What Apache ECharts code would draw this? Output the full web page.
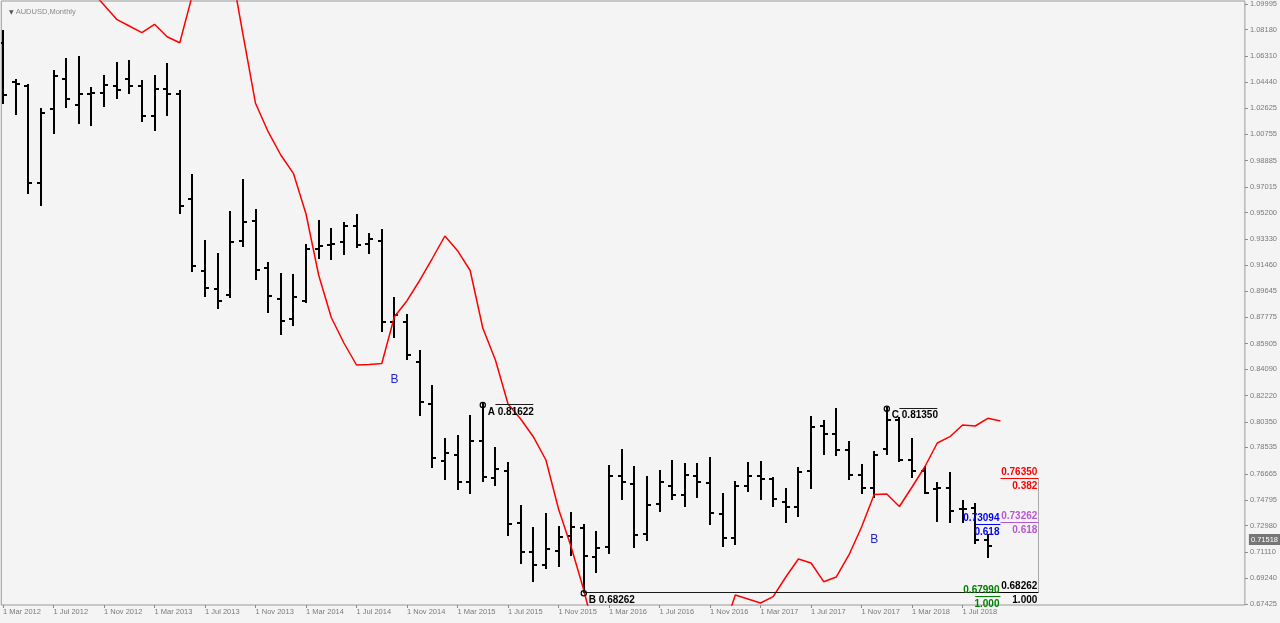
<!DOCTYPE html>
<html><head><meta charset="utf-8">
<script src="https://cdn.jsdelivr.net/npm/echarts@6/dist/echarts.min.js"></script>
<style>html,body{margin:0;padding:0;background:#f4f4f4;}#c{width:1280px;height:623px;}</style>
</head><body><div id="c"></div>
<script>
// ---- data ----
const xTickIndex = [0,4,8,12,16,20,24,28,32,36,40,44,48,52,56,60,64,68,72,76];
const xTickLabels = ['1 Mar 2012','1 Jul 2012','1 Nov 2012','1 Mar 2013','1 Jul 2013','1 Nov 2013','1 Mar 2014','1 Jul 2014','1 Nov 2014','1 Mar 2015','1 Jul 2015','1 Nov 2015','1 Mar 2016','1 Jul 2016','1 Nov 2016','1 Mar 2017','1 Jul 2017','1 Nov 2017','1 Mar 2018','1 Jul 2018'];
const yTickLabels = ['1.09995','1.08180','1.06310','1.04440','1.02625','1.00755','0.98885','0.97015','0.95200','0.93330','0.91460','0.89645','0.87775','0.85905','0.84090','0.82220','0.80350','0.78535','0.76665','0.74795','0.72980','0.71110','0.69240','0.67425'];

// monthly bars, index 0 = Mar 2012 ... 78 = Sep 2018
const openP  = [1.07228,1.04440,1.04199,0.97316,1.02567,1.04695,1.02808,1.03610,1.03702,1.04156,
                1.04653,1.04156,1.02070,1.03964,1.03588,0.96139,0.91030,0.89753,0.89370,0.93180,
                0.94620,0.91243,0.89086,0.87625,0.88923,0.92591,0.92896,0.93074,0.94266,0.92967,
                0.93180,0.87454,0.87454,0.84574,0.81615,0.77592,0.77997,0.76102,0.78990,0.76344,
                0.76883,0.73151,0.71093,0.70192,0.71207,0.72250,0.72796,0.70781,0.71448,0.76507,
                0.75918,0.72370,0.74499,0.75819,0.75159,0.76528,0.75989,0.73811,0.72129,0.75819,
                0.76507,0.76273,0.74641,0.74329,0.76862,0.80054,0.79465,0.78351,0.76578,0.75677,
                0.78401,0.80515,0.77642,0.76862,0.75585,0.75634,0.74144,0.74215,0.71966];
const highP  = [1.08101,1.04603,1.04248,1.02524,1.05263,1.06072,1.06214,1.04035,1.04866,1.05830,
                1.05930,1.04532,1.04908,1.05759,1.03801,0.97863,0.93180,0.92279,0.95259,0.97508,
                0.95379,0.91598,0.90839,0.90768,0.92896,0.94578,0.94010,0.94436,0.95025,0.93677,
                0.93960,0.89115,0.87930,0.85397,0.82914,0.79111,0.79345,0.80764,0.81622,0.78472,
                0.77408,0.74378,0.72796,0.73811,0.72867,0.73860,0.73030,0.72555,0.77216,0.78351,
                0.77167,0.76457,0.76862,0.77571,0.77358,0.77358,0.77763,0.75230,0.76102,0.77408,
                0.77500,0.76344,0.75563,0.77096,0.80671,0.80409,0.81239,0.78940,0.77287,0.78231,
                0.81350,0.80600,0.79111,0.77167,0.76010,0.76741,0.74754,0.74520,0.72321];
const lowP   = [1.02992,1.02191,0.96607,0.95734,1.00864,1.02709,1.01573,1.01410,1.02780,1.03347,
                1.03702,1.01715,1.01055,1.02120,0.95202,0.91052,0.89299,0.88405,0.89228,0.92847,
                0.90484,0.88121,0.86560,0.87220,0.88873,0.91995,0.91938,0.92244,0.92776,0.92350,
                0.86795,0.86390,0.84787,0.80835,0.77167,0.76273,0.75563,0.75322,0.76152,0.75868,
                0.72321,0.70355,0.69078,0.69958,0.70143,0.70902,0.68262,0.69674,0.71065,0.74875,
                0.71448,0.71966,0.74045,0.74854,0.74378,0.74995,0.73101,0.71562,0.71661,0.75443,
                0.74875,0.74378,0.73264,0.73669,0.75677,0.78046,0.77997,0.76273,0.75279,0.74995,
                0.78046,0.77571,0.76414,0.75279,0.73314,0.73264,0.73264,0.71732,0.70781];
const closeP = [1.03539,1.04319,0.97316,1.02240,1.04908,1.03255,1.03631,1.03681,1.04248,1.03872,
                1.04199,1.02070,1.03964,1.03631,0.95663,0.91406,0.89824,0.88944,0.93130,0.94528,
                0.91101,0.89257,0.87504,0.89186,0.92591,0.92825,0.92967,0.94258,0.92896,0.93322,
                0.87454,0.87930,0.85092,0.81757,0.77763,0.78117,0.76102,0.78990,0.76457,0.76982,
                0.73101,0.71136,0.70192,0.71306,0.72200,0.72910,0.70852,0.71377,0.76507,0.76102,
                0.72321,0.74449,0.76102,0.75159,0.76578,0.76102,0.73860,0.72129,0.75797,0.76507,
                0.76294,0.74875,0.74329,0.76811,0.79962,0.79465,0.78351,0.76578,0.75634,0.77997,
                0.80480,0.77642,0.76862,0.75322,0.75634,0.74023,0.74144,0.71966,0.71518];

// red indicator line, first value at bar index maStart
const maStart = 7;
const maValues = [1.10918,1.09924,1.08910,1.08434,1.07959,1.08555,1.07675,1.07249,1.10634,1.13472,
                  1.14181,1.12904,1.07867,1.02950,1.00935,0.99282,0.97983,0.95096,0.90768,0.87752,
                  0.85943,0.84382,0.84418,0.84489,0.87809,0.88944,0.90378,0.91938,0.93535,0.92492,
                  0.91087,0.87007,0.84737,0.81615,0.80551,0.79295,0.77642,0.74165,0.71469,0.68418,
                  0.64871,0.63452,0.62033,0.61323,0.60969,0.61323,0.62033,0.62742,0.63452,0.64303,
                  0.65368,0.68064,0.67780,0.67496,0.67943,0.69341,0.70618,0.70334,0.69007,0.69341,
                  0.70902,0.72888,0.75194,0.75230,0.74343,0.75726,0.77145,0.78848,0.79295,0.80125,
                  0.80054,0.80600,0.80409];

const currentPrice = 0.71518;
const pivots = [
  {name:'A', n:38, price:0.81622},
  {name:'B', n:46, price:0.68262},
  {name:'C', n:70, price:0.81350}
];
const levelLines = [
  {n0:39, n1:42, price:0.81622},
  {n0:71, n1:74, price:0.81350},
  {n0:46, n1:82, price:0.68262}
];
const fibLevels = [
  {n0:79, n1:82, price:0.76350, ratio:'0.382', color:'#ff0000'},
  {n0:79, n1:82, price:0.73262, ratio:'0.618', color:'#ba55d3'},
  {n0:79, n1:82, price:0.68262, ratio:'1.000', color:'#000000'},
  {n0:77, n1:79, price:0.73094, ratio:'0.618', color:'#0000ff'},
  {n0:77, n1:79, price:0.67990, ratio:'1.000', color:'#008000'}
];
const fibEdge = {n:82, top:0.76350, bottom:0.68262};
const waveLabels = [
  {n:31, price:0.83318, text:'B'},
  {n:69, price:0.71966, text:'B'}
];

// ---- chart ----
const FONT = '"Liberation Sans", Arial, sans-serif';
const FONTB = 'bold 10px ' + FONT;
const chart = echarts.init(document.getElementById('c'));

const ohlcData = openP.map((o, i) => [i, o, highP[i], lowP[i], closeP[i]]);
const maData = maValues.map((v, i) => [i + maStart, v]);

chart.setOption({
  animation: false,
  backgroundColor: '#f4f4f4',
  title: {
    text: '{t|▼} AUDUSD,Monthly',
    left: 4, top: 3,
    textStyle: {fontSize: 7.5, fontWeight: 'normal', color: '#8a8a8a', fontFamily: FONT,
      rich: {t: {fontSize: 6, color: '#555555', fontFamily: 'DejaVu Sans'}}}
  },
  grid: {left: 1, top: 1, right: 35, bottom: 18, show: true, borderColor: '#9a9a9a', borderWidth: 1, backgroundColor: '#f4f4f4'},
  xAxis: {
    type: 'value', min: -0.1346, max: 98.361,
    splitLine: {show: false},
    axisLine: {show: false, onZero: false},
    axisTick: {show: true, length: 3, customValues: xTickIndex, lineStyle: {color: '#8a8a8a'}},
    axisLabel: {
      customValues: xTickIndex, align: 'left', margin: 3,
      fontSize: 7.5, color: '#7a7a7a', fontFamily: FONT,
      formatter: v => xTickLabels[xTickIndex.indexOf(Math.round(v))] || ''
    }
  },
  yAxis: {
    type: 'value', position: 'right', min: 0.67354, max: 1.10208, scale: true,
    splitLine: {show: false},
    axisLine: {show: false, onZero: false},
    axisTick: {show: true, length: 3, customValues: yTickLabels.map(Number), lineStyle: {color: '#8a8a8a'}},
    axisLabel: {
      customValues: yTickLabels.map(Number), margin: 5,
      fontSize: 7.5, color: '#7a7a7a', fontFamily: FONT,
      formatter: v => v.toFixed(5)
    }
  },
  series: [
    {
      type: 'custom', name: 'bars', clip: true, z: 2,
      data: ohlcData,
      encode: {x: 0, y: [2, 3]},
      renderItem: (params, api) => {
        const n = api.value(0);
        const x = Math.round(api.coord([n, api.value(1)])[0]);
        const yo = Math.round(api.coord([n, api.value(1)])[1]);
        const yh = Math.round(api.coord([n, api.value(2)])[1]);
        const yl = Math.round(api.coord([n, api.value(3)])[1]);
        const yc = Math.round(api.coord([n, api.value(4)])[1]);
        const st = {stroke: '#000000', lineWidth: 2};
        return {type: 'group', children: [
          {type: 'line', shape: {x1: x, y1: yh - 1, x2: x, y2: yl + 1}, style: st},
          {type: 'line', shape: {x1: x - 4, y1: yo, x2: x, y2: yo}, style: st},
          {type: 'line', shape: {x1: x, y1: yc, x2: x + 4, y2: yc}, style: st}
        ]};
      }
    },
    {
      type: 'line', name: 'ma', data: maData, clip: true, z: 3,
      symbol: 'none', lineStyle: {color: '#ff0000', width: 1.5},
      markLine: {
        silent: true, symbol: 'none',
        lineStyle: {color: 'rgba(0,0,0,0)', width: 0},
        data: [{yAxis: currentPrice}],
        label: {show: true, position: 'end', distance: 4, formatter: currentPrice.toFixed(5),
          color: '#ffffff', backgroundColor: '#767676', padding: [2, 2, 1, 2],
          fontSize: 7.5, fontFamily: FONT}
      }
    },
    {
      type: 'custom', name: 'levelLines', z: 4,
      data: levelLines.map(l => [l.n0, l.price]),
      renderItem: (params, api) => {
        const l = levelLines[params.dataIndex];
        const a = api.coord([l.n0, l.price]), b = api.coord([l.n1, l.price]);
        const y = Math.round(a[1]) + 0.5;
        return {type: 'line', shape: {x1: a[0], y1: y, x2: b[0], y2: y}, style: {stroke: '#1a1a1a', lineWidth: 1}};
      }
    },
    {
      type: 'custom', name: 'pivots', z: 5,
      data: pivots.map(p => [p.n, p.price]),
      renderItem: (params, api) => {
        const p = pivots[params.dataIndex];
        const c = api.coord([p.n, p.price]);
        return {type: 'group', children: [
          {type: 'circle', shape: {cx: c[0], cy: c[1] + 1, r: 2.6}, style: {fill: 'none', stroke: '#000000', lineWidth: 1.2}},
          {type: 'text', x: c[0] + 5, y: c[1] + 8, style: {text: p.name + ' ' + p.price.toFixed(5), fill: '#000000', font: FONTB, align: 'left', verticalAlign: 'middle'}}
        ]};
      }
    },
    {
      type: 'custom', name: 'fibEdge', z: 4,
      data: [[fibEdge.n, fibEdge.top]],
      renderItem: (params, api) => {
        const a = api.coord([fibEdge.n, fibEdge.top]), b = api.coord([fibEdge.n, fibEdge.bottom]);
        const x = Math.round(a[0]) + 0.5;
        return {type: 'line', shape: {x1: x, y1: a[1], x2: x, y2: b[1]}, style: {stroke: '#a8a8a8', lineWidth: 1}};
      }
    },
    {
      type: 'custom', name: 'fib', z: 6,
      data: fibLevels.map(f => [f.n0, f.price]),
      renderItem: (params, api) => {
        const f = fibLevels[params.dataIndex];
        const a = api.coord([f.n0, f.price]), b = api.coord([f.n1, f.price]);
        const y = Math.round(a[1]) + 0.5;
        return {type: 'group', children: [
          {type: 'line', shape: {x1: a[0], y1: y, x2: b[0], y2: y}, style: {stroke: f.color, lineWidth: 1}},
          {type: 'text', x: b[0] - 1, y: y - 6, style: {text: f.price.toFixed(5), fill: f.color, font: FONTB, align: 'right', verticalAlign: 'middle'}},
          {type: 'text', x: b[0] - 1, y: y + 8, style: {text: f.ratio, fill: f.color, font: FONTB, align: 'right', verticalAlign: 'middle'}}
        ]};
      }
    },
    {
      type: 'custom', name: 'waves', z: 6,
      data: waveLabels.map(w => [w.n, w.price]),
      renderItem: (params, api) => {
        const w = waveLabels[params.dataIndex];
        const c = api.coord([w.n, w.price]);
        return {type: 'text', x: c[0], y: c[1], style: {text: w.text, fill: '#2424d8', font: '12px ' + FONT, align: 'center', verticalAlign: 'middle'}};
      }
    }
  ]
});
</script></body></html>
